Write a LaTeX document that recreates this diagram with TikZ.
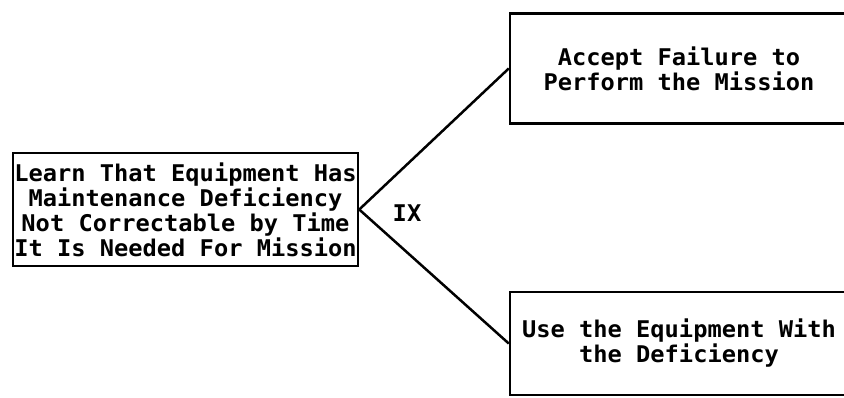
\documentclass[tikz,border=0pt]{standalone}
\usepackage{fontspec}
\setmonofont[FakeStretch=1.03]{DejaVu Sans Mono}
\usetikzlibrary{trees}
\tikzset{
  basic/.style   = {draw, line width=2.5pt, rectangle, align=center, inner sep=1pt,
                    font=\fontsize{23}{25}\selectfont\ttfamily\bfseries},
  event/.style   = {basic, minimum width=345pt, minimum height=113pt},
  outcome/.style = {basic, minimum width=338pt, minimum height=110pt, yshift=3.5pt}
}
\begin{document}
\begin{tikzpicture}[
    grow'=right, level distance=493.5pt,
    level 1/.style={sibling distance=275pt},
    edge from parent/.style={draw, line width=2.5pt},
    edge from parent path={(\tikzparentnode.east) -- (\tikzchildnode.west)}]
  \clip (0,0) rectangle (844pt,397pt);

  % the event that forces the decision
  \node[event] (learn) at (185.5pt,187.5pt)
    {Learn That Equipment Has\\Maintenance Deficiency\\Not Correctable by Time\\It Is Needed For Mission}
  % the two courses of action
    child {node[outcome] (accept) {Accept Failure to\\Perform the Mission}}
    child {node[outcome, minimum height=103pt] (use) {Use the Equipment With\\the Deficiency}};

  % decision number
  \node[font=\fontsize{23}{25}\selectfont\ttfamily\bfseries] (ix) at (407pt,184pt) {IX};
\end{tikzpicture}
\end{document}
